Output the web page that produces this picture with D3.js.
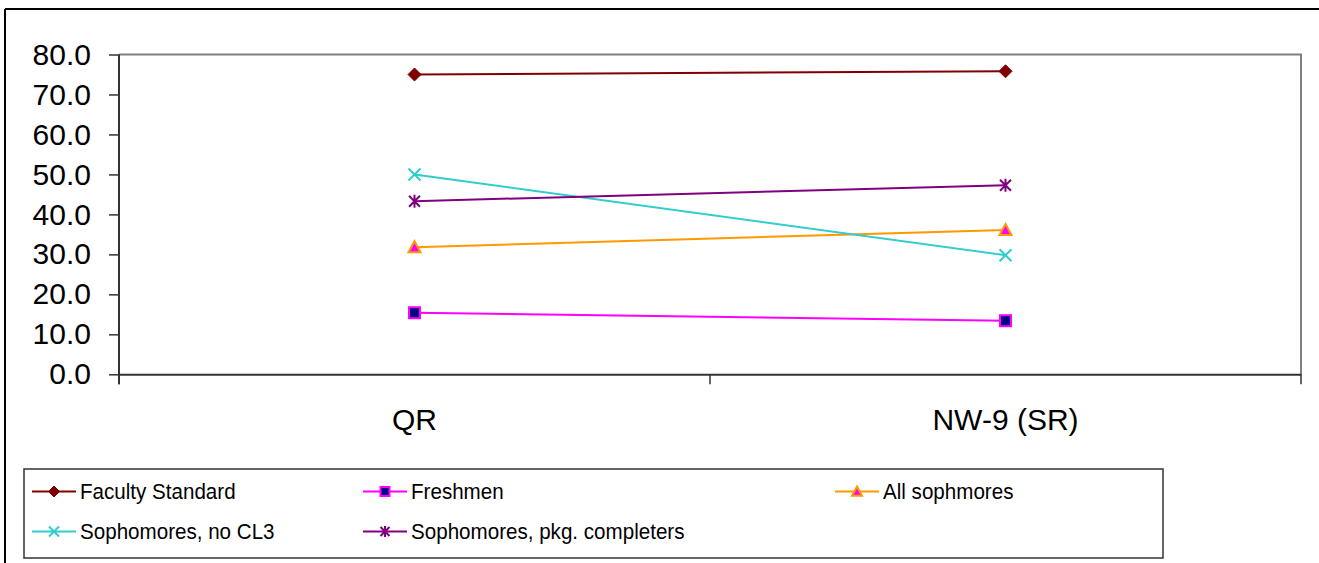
<!DOCTYPE html>
<html>
<head>
<meta charset="utf-8">
<script src="https://cdn.jsdelivr.net/npm/d3@7/dist/d3.min.js"></script>
<style>
  html, body { margin: 0; padding: 0; background: #fff; }
  svg { display: block; font-family: "Liberation Sans", Arial, sans-serif; }
</style>
</head>
<body>
<svg id="chart" width="1319" height="563"></svg>
<script>
// ---- data ----
const categories = ["QR", "NW-9 (SR)"];
const yTicks = [0, 10, 20, 30, 40, 50, 60, 70, 80];
const seriesNames = ["Faculty Standard", "Freshmen", "All sophmores", "Sophomores, no CL3", "Sophomores, pkg. completers"];
const facultyStandard = [75.0, 75.8];
const freshmen = [15.4, 13.4];
const allSophmores = [31.8, 36.1];
const sophNoCL3 = [50.0, 29.8];
const sophPkg = [43.3, 47.3];

const seriesValues = [facultyStandard, freshmen, allSophmores, sophNoCL3, sophPkg];
const styles = [
  { line: "#800000", marker: "diamond", fill: "#800000", stroke: "#800000" },
  { line: "#FF00FF", marker: "square", fill: "#000080", stroke: "#FF00FF" },
  { line: "#FF9900", marker: "triangle", fill: "#FF00FF", stroke: "#FF9900" },
  { line: "#33CCCC", marker: "x", fill: "none", stroke: "#33CCCC" },
  { line: "#800080", marker: "star", fill: "none", stroke: "#800080" }
];

const svg = d3.select("#chart");

// outer frame (left & top visible)
svg.append("line").attr("x1", 5).attr("y1", 9).attr("x2", 1319).attr("y2", 9)
  .attr("stroke", "#000").attr("stroke-width", 2);
svg.append("line").attr("x1", 5).attr("y1", 9).attr("x2", 5).attr("y2", 563)
  .attr("stroke", "#000").attr("stroke-width", 2);

const plot = { left: 119, right: 1301, top: 54.5, bottom: 374.3 };

const x = d3.scaleBand().domain(categories).range([plot.left, plot.right]).paddingInner(0).paddingOuter(0);
const y = d3.scaleLinear().domain([0, 80]).range([plot.bottom, plot.top]);
const cx = c => x(c) + x.bandwidth() / 2;

// plot area border top & right
svg.append("path")
  .attr("d", `M${plot.left},${plot.top}H${plot.right}V${plot.bottom}`)
  .attr("fill", "none").attr("stroke", "#808080").attr("stroke-width", 2);

// y axis
const yAxis = d3.axisLeft(y).tickValues(yTicks).tickFormat(d3.format(".1f"))
  .tickSize(10).tickSizeOuter(0).tickPadding(18);
const gy = svg.append("g").attr("transform", `translate(${plot.left},0)`).call(yAxis);
gy.select(".domain").attr("stroke", "#333").attr("stroke-width", 2)
  .attr("d", `M0,${plot.top}V${plot.bottom + 10}`);
gy.selectAll(".tick line").attr("stroke", "#333").attr("stroke-width", 1.5);
gy.selectAll(".tick text").attr("font-size", 30).attr("fill", "#000")
  .attr("font-family", "Liberation Sans, Arial, sans-serif");

// x axis
const xAxis = d3.axisBottom(x).tickSize(0).tickSizeOuter(0).tickPadding(34);
const gx = svg.append("g").attr("transform", `translate(0,${plot.bottom})`).call(xAxis);
gx.select(".domain").attr("stroke", "#333").attr("stroke-width", 2);
gx.selectAll(".tick text").attr("font-size", 30).attr("fill", "#000")
  .attr("font-family", "Liberation Sans, Arial, sans-serif");
// category boundary ticks
const boundaries = categories.map(c => x(c)).concat([x(categories[categories.length - 1]) + x.bandwidth()]);
gx.selectAll(".bt").data(boundaries).enter().append("line")
  .attr("x1", d => d).attr("x2", d => d).attr("y1", 0).attr("y2", 10)
  .attr("stroke", "#333").attr("stroke-width", 1.5);

// marker drawing
function drawMarker(g, type, fill, stroke, px, py, s) {
  const h = s / 2;
  if (type === "diamond") {
    g.append("path").attr("d", `M${px},${py - h}L${px + h},${py}L${px},${py + h}L${px - h},${py}Z`)
      .attr("fill", fill).attr("stroke", stroke).attr("stroke-width", 1);
  } else if (type === "square") {
    const r = h - 1;
    g.append("rect").attr("x", px - r).attr("y", py - r).attr("width", 2 * r).attr("height", 2 * r)
      .attr("fill", fill).attr("stroke", stroke).attr("stroke-width", 2);
  } else if (type === "triangle") {
    const r = h - 0.5;
    g.append("path").attr("d", `M${px},${py - r}L${px + r},${py + r * 0.85}L${px - r},${py + r * 0.85}Z`)
      .attr("fill", fill).attr("stroke", stroke).attr("stroke-width", 2).attr("stroke-linejoin", "miter");
  } else if (type === "x") {
    const r = h - 0.5;
    g.append("path").attr("d", `M${px - r},${py - r}L${px + r},${py + r}M${px - r},${py + r}L${px + r},${py - r}`)
      .attr("stroke", stroke).attr("stroke-width", 2).attr("fill", "none");
  } else if (type === "star") {
    const r = h - 1;
    g.append("path").attr("d", `M${px - r},${py - r}L${px + r},${py + r}M${px - r},${py + r}L${px + r},${py - r}M${px},${py - h}L${px},${py + h}`)
      .attr("stroke", stroke).attr("stroke-width", 2).attr("fill", "none");
  }
}

// series
const line = d3.line().x((d, i) => cx(categories[i])).y(d => y(d));
const gs = svg.append("g");
seriesValues.forEach((vals, si) => {
  const st = styles[si];
  gs.append("path").datum(vals).attr("d", line)
    .attr("fill", "none").attr("stroke", st.line).attr("stroke-width", 2);
});
seriesValues.forEach((vals, si) => {
  const st = styles[si];
  vals.forEach((v, i) => drawMarker(gs, st.marker, st.fill, st.stroke, cx(categories[i]), y(v), 13));
});

// legend
const lg = svg.append("g");
lg.append("rect").attr("x", 24).attr("y", 469).attr("width", 1139).attr("height", 89)
  .attr("fill", "#fff").attr("stroke", "#333").attr("stroke-width", 1.5);
const legendPos = [
  { lx: 32, ly: 491.5 }, { lx: 363, ly: 491.5 }, { lx: 835, ly: 491.5 },
  { lx: 32, ly: 531.5 }, { lx: 363, ly: 531.5 }
];
seriesNames.forEach((name, si) => {
  const st = styles[si];
  const p = legendPos[si];
  lg.append("line").attr("x1", p.lx).attr("x2", p.lx + 44).attr("y1", p.ly).attr("y2", p.ly)
    .attr("stroke", st.line).attr("stroke-width", 2);
  drawMarker(lg, st.marker, st.fill, st.stroke, p.lx + 22, p.ly, 11);
  lg.append("text")
    .attr("transform", `translate(${p.lx + 48},${p.ly + 7}) scale(1,1.1)`)
    .attr("font-size", 20.6)
    .attr("fill", "#000").text(name);
});
</script>
</body>
</html>
